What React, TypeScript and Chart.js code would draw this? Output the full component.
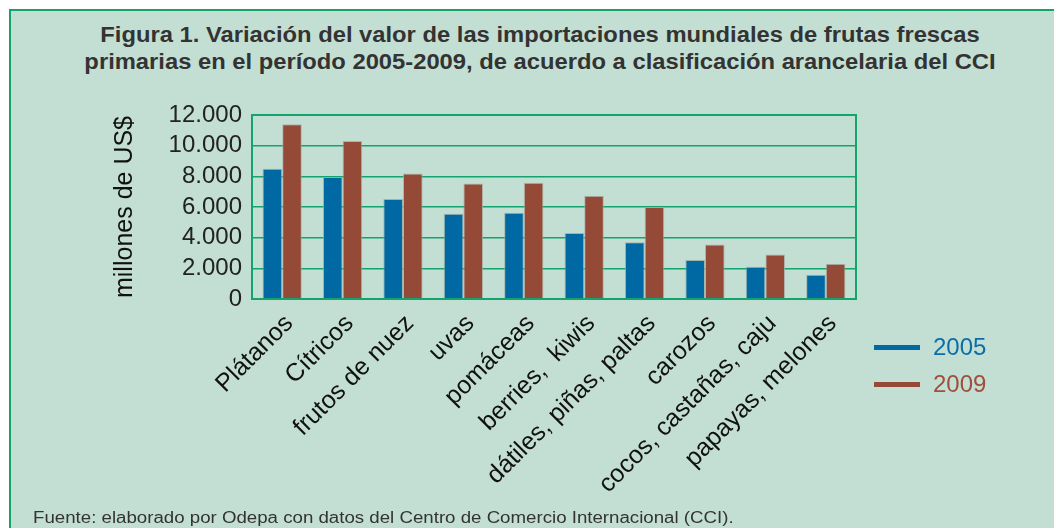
import React, { useEffect, useRef } from "react";
import { Chart, registerables } from "chart.js";

Chart.register(...registerables);

const categories = [
  "Plátanos",
  "Cítricos",
  "frutos de nuez",
  "uvas",
  "pomáceas",
  "berries,  kiwis",
  "dátiles, piñas, paltas",
  "carozos",
  "cocos, castañas, caju",
  "papayas, melones",
];
const seriesNames = ["2005", "2009"];
const values2005 = [8500, 7950, 6520, 5560, 5620, 4300, 3700, 2550, 2100, 1580];
const values2009 = [11400, 10300, 8180, 7540, 7580, 6740, 6000, 3550, 2900, 2300];
const yTicks = [0, 2000, 4000, 6000, 8000, 10000, 12000];

const title1 = "Figura 1. Variación del valor de las importaciones mundiales de frutas frescas";
const title2 = "primarias en el período 2005-2009, de acuerdo a clasificación arancelaria del CCI";
const yTitle = "millones de US$";
const source = "Fuente: elaborado por Odepa con datos del Centro de Comercio Internacional (CCI).";

const BLUE = "#0068a2";
const BROWN = "#944a37";
const GREEN = "#12a46c";
const PANEL = "#c3dfd3";
const FONT = "'Liberation Sans', Arial, sans-serif";

function fmt(v: number): string {
  const s = String(Math.round(v));
  return s.replace(/\B(?=(\d{3})+(?!\d))/g, ".");
}

const frame = {
  id: "frame",
  afterDraw(chart: any) {
    const { ctx, chartArea } = chart;
    ctx.save();
    ctx.strokeStyle = GREEN;
    ctx.lineWidth = 2;
    ctx.strokeRect(chartArea.left, chartArea.top, chartArea.right - chartArea.left, chartArea.bottom - chartArea.top);
    ctx.restore();
  },
};

export default function App() {
  const ref = useRef<HTMLCanvasElement | null>(null);

  useEffect(() => {
    if (!ref.current) return;
    const chart = new Chart(ref.current, {
      type: "bar",
      data: {
        labels: categories,
        datasets: [
          {
            label: seriesNames[0],
            data: values2005,
            backgroundColor: BLUE,
            borderColor: "rgba(150,170,165,0.8)",
            borderWidth: 1,
          },
          {
            label: seriesNames[1],
            data: values2009,
            backgroundColor: BROWN,
            borderColor: "rgba(170,170,165,0.8)",
            borderWidth: 1,
          },
        ],
      },
      plugins: [frame],
      options: {
        responsive: false,
        animation: false,
        devicePixelRatio: 1,
        layout: { padding: { left: 110, top: 115, right: 198, bottom: 9 } },
        plugins: {
          legend: { display: false },
          tooltip: { enabled: false },
          title: { display: false },
        },
        datasets: {
          bar: { categoryPercentage: 0.65, barPercentage: 1.0 },
        },
        scales: {
          x: {
            grid: { display: false, drawTicks: false },
            border: { display: true, color: GREEN, width: 2 },
            ticks: {
              maxRotation: 45,
              minRotation: 45,
              autoSkip: false,
              padding: 10,
              labelOffset: 7,
              color: "#111",
              font: { family: FONT, size: 25 },
            },
            afterFit(scale: any) {
              scale.height = 220;
            },
          },
          y: {
            min: 0,
            max: 12000,
            afterBuildTicks(scale: any) {
              scale.ticks = yTicks.map((v) => ({ value: v }));
            },
            grid: { color: GREEN, lineWidth: 1.5, drawTicks: false },
            border: { display: true, color: GREEN, width: 2 },
            ticks: {
              autoSkip: false,
              padding: 10,
              color: "#222",
              font: { family: FONT, size: 24 },
              callback: (v: any) => fmt(Number(v)),
            },
            title: {
              display: true,
              text: yTitle,
              color: "#111",
              padding: { top: 0, bottom: 0 },
              font: { family: FONT, size: 25 },
            },
            afterFit(scale: any) {
              scale.width = 142;
            },
          },
        },
      },
    });
    return () => chart.destroy();
  }, []);

  return (
    <div style={{ position: "absolute", left: 0, top: 0, width: 1054, height: 528, background: "#fff", overflow: "hidden", fontFamily: FONT }}>
      <div
        style={{
          position: "absolute",
          left: 9,
          top: 9,
          right: 0,
          bottom: 0,
          background: PANEL,
          borderTop: `2px solid ${GREEN}`,
          borderLeft: `2px solid ${GREEN}`,
        }}
      />
      <div
        style={{
          position: "absolute",
          left: 0,
          width: 1080,
          top: 21,
          textAlign: "center",
          fontWeight: "bold",
          fontSize: 22,
          lineHeight: "27px",
          color: "#333",
          transform: "scaleX(1.08)",
          transformOrigin: "540px 0",
        }}
      >
        <div>{title1}</div>
        <div>{title2}</div>
      </div>
      <canvas ref={ref} width={1054} height={528} style={{ position: "absolute", left: 0, top: 0, width: 1054, height: 528 }} />
      <div style={{ position: "absolute", left: 874, top: 330 }}>
        {[BLUE, BROWN].map((c, i) => (
          <div key={i} style={{ position: "relative", height: 37 }}>
            <div style={{ position: "absolute", left: 0, top: 15, width: 46, height: 5, background: c }} />
            <div style={{ position: "absolute", left: 59, top: 2, fontSize: 24, lineHeight: "30px", color: i === 0 ? "#0b6ea8" : "#a04f3c" }}>
              {seriesNames[i]}
            </div>
          </div>
        ))}
      </div>
      <div
        style={{
          position: "absolute",
          left: 33,
          top: 508,
          fontSize: 16,
          lineHeight: "20px",
          color: "#333",
          whiteSpace: "nowrap",
          transform: "scaleX(1.167)",
          transformOrigin: "0 0",
        }}
      >
        {source}
      </div>
    </div>
  );
}
